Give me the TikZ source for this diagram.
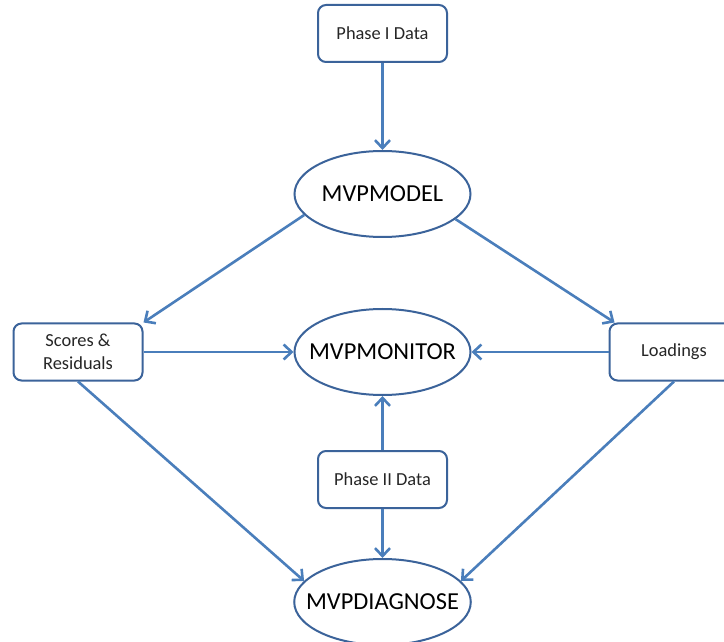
\documentclass[tikz,border=0pt]{standalone}
\usepackage{fontspec}
\setmainfont{Carlito}
\usetikzlibrary{positioning, shapes.geometric, arrows.meta}

\definecolor{boxline}{HTML}{3B639A}
\definecolor{arrowline}{HTML}{4A7EBB}

\begin{document}
\begin{tikzpicture}[x=0.5pt, y=-0.5pt,
    databox/.style={draw=boxline, line width=1pt, rounded corners=4pt, fill=white,
        minimum width=64.5pt, minimum height=28.5pt, inner sep=0pt, align=center,
        font=\fontsize{9.2}{11.5}\selectfont, text=black!85},
    macro/.style={ellipse, draw=boxline, line width=1pt, fill=white,
        minimum width=88pt, minimum height=43pt, inner xsep=-7pt, inner ysep=0pt,
        font=\fontsize{12.2}{14}\selectfont},
    flow/.style={draw=arrowline, line width=1.3pt,
        -{Straight Barb[length=4pt, width=7.5pt, line width=1.3pt]}}]

    \useasboundingbox (0,0) rectangle (724,642);

    \node[databox] (scores) at (78,352) {Scores \&\\Residuals};
    \node[macro, right=75pt of scores] (monitor) {MVPMONITOR};
    \node[databox, right=68.5pt of monitor] (loadings) {Loadings};
    \node[macro, above=35pt of monitor] (model) {MVPMODEL};
    \node[databox, above=43.5pt of model] (phaseone) {Phase I Data};
    \node[databox, below=27pt of monitor] (phasetwo) {Phase II Data};
    \node[macro, below=24.5pt of phasetwo] (diagnose) {MVPDIAGNOSE};

    \draw[flow] (phaseone) -- (model);
    \draw[flow] (model.195) -- (scores.north east);
    \draw[flow] (model.341) -- ([xshift=3pt]loadings.north west);
    \draw[flow] (scores) -- (monitor);
    \draw[flow] (loadings) -- (monitor);
    \draw[flow] (phasetwo) -- (monitor);
    \draw[flow] (phasetwo) -- (diagnose);
    \draw[flow] (scores.south) -- (diagnose.165);
    \draw[flow] (loadings.south) -- (diagnose.15);
\end{tikzpicture}
\end{document}
